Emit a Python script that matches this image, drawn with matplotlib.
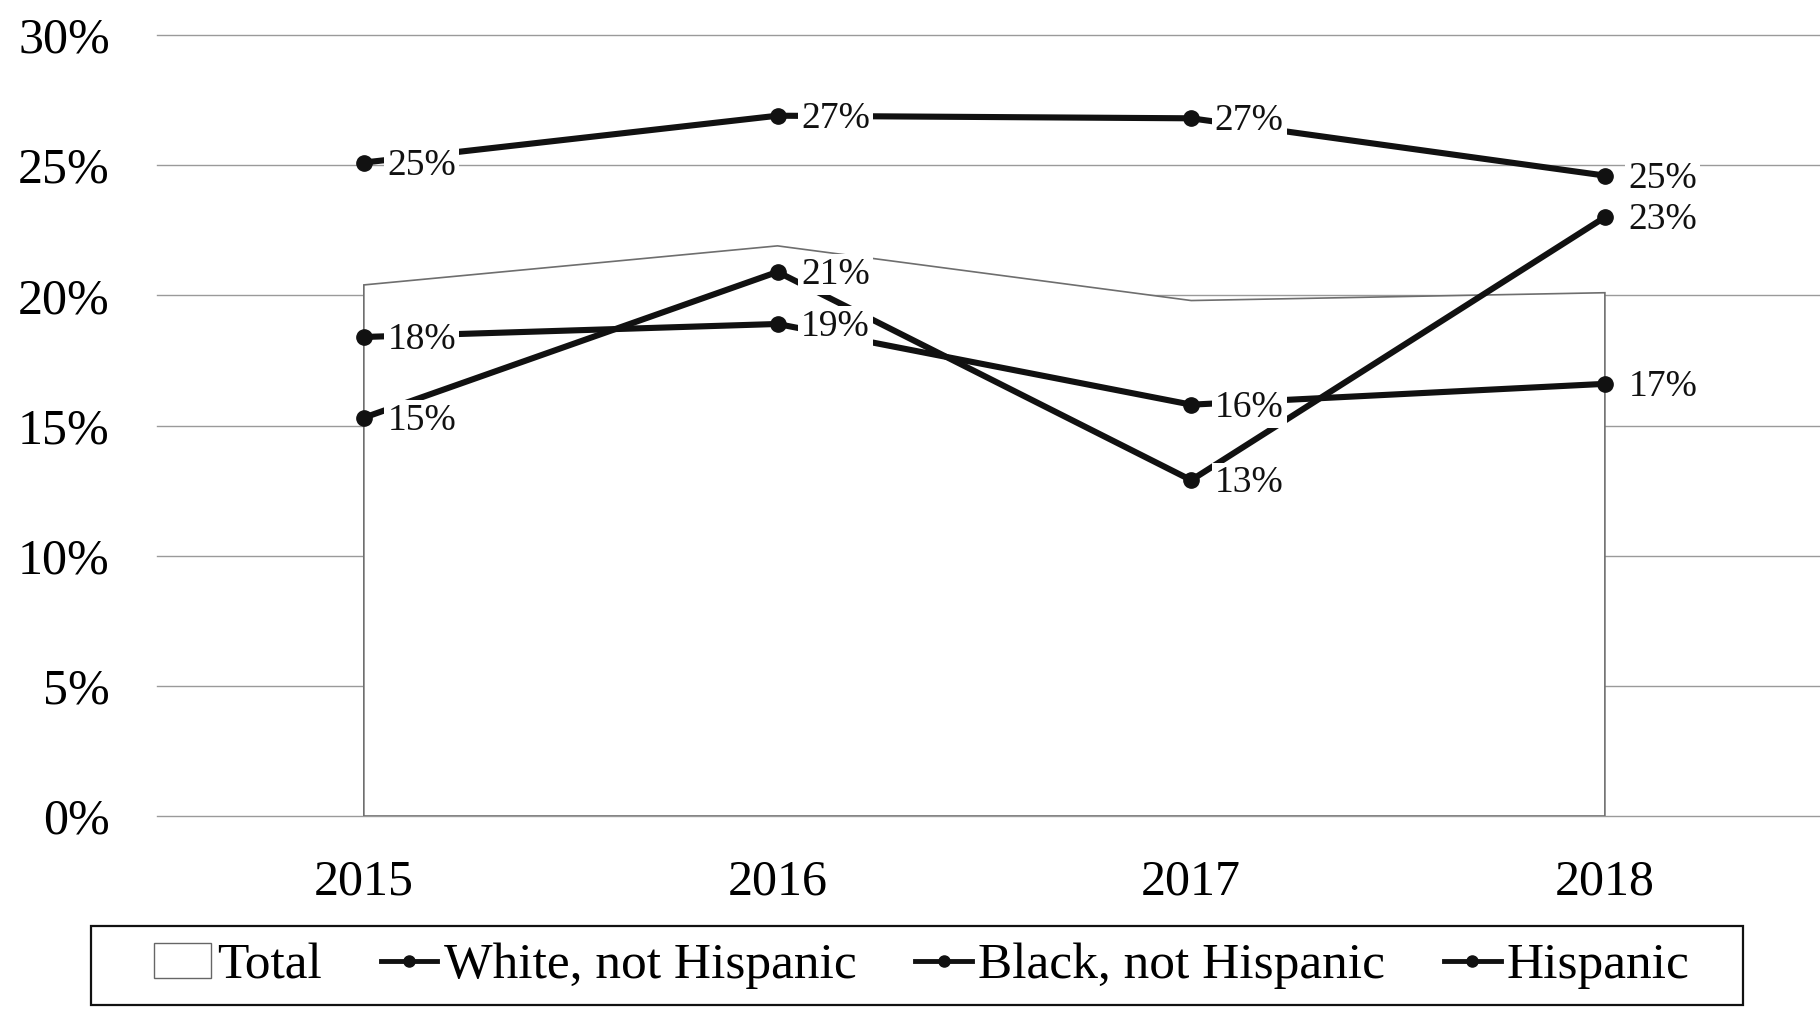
import matplotlib

matplotlib.use("Agg")

import matplotlib.pyplot as plt
from matplotlib.lines import Line2D
from matplotlib.patches import Patch, Rectangle

plt.rcParams["font.family"] = ["Liberation Serif", "DejaVu Serif"]

YEARS = ["2015", "2016", "2017", "2018"]
TOTAL = [20.4, 21.9, 19.8, 20.1]
WHITE = [18.4, 18.9, 15.8, 16.6]
BLACK = [25.1, 26.9, 26.8, 24.6]
HISPANIC = [15.3, 20.9, 12.9, 23.0]
SERIES_NAMES = ["Total", "White, not Hispanic", "Black, not Hispanic", "Hispanic"]
Y_TICKS = [0, 5, 10, 15, 20, 25, 30]

W, H = 1820, 1018


def main() -> None:
    fig = plt.figure(figsize=(W / 100, H / 100), dpi=100)
    fig.patch.set_facecolor("white")
    ax = fig.add_axes([157 / W, 1 - 816 / H, 1 - 157 / W, (816 - 35) / H])

    x = list(range(len(YEARS)))

    # Total is drawn as a white area with a thin grey outline, hiding the grid
    ax.fill(
        [x[0]] + x + [x[-1]],
        [0] + TOTAL + [0],
        facecolor="white",
        edgecolor="#6e6e6e",
        linewidth=1.2,
        zorder=1.5,
    )

    for values in (WHITE, BLACK, HISPANIC):
        ax.plot(x, values, color="#111111", linewidth=4.4, marker="o",
                markersize=11, zorder=3, clip_on=False)
        for xi, v in zip(x, values):
            ax.annotate(
                f"{v:.0f}%",
                xy=(xi, v),
                xytext=(17, -2),
                textcoords="offset points",
                ha="left",
                va="center",
                fontsize=27,
                color="#111111",
                bbox=dict(boxstyle="square,pad=0.08", facecolor="white", edgecolor="none"),
                zorder=5,
            )

    ax.set_xlim(-0.5, 3.52)
    ax.set_ylim(0, 30)
    ax.set_xticks(x)
    ax.set_xticklabels(YEARS)
    ax.set_yticks(Y_TICKS)
    ax.set_yticklabels([f"{t}%" for t in Y_TICKS])
    ax.tick_params(axis="y", length=0, labelsize=36, pad=34)
    ax.tick_params(axis="x", length=0, labelsize=36, pad=31)
    for spine in ax.spines.values():
        spine.set_visible(False)
    ax.yaxis.grid(True, color="#9a9a9a", linewidth=1.0)
    ax.set_axisbelow(True)
    for gl in ax.get_ygridlines():
        gl.set_clip_on(False)

    handles = [Patch(facecolor="white", edgecolor="#666666", linewidth=1.0)]
    for _ in range(3):
        handles.append(Line2D([], [], color="#111111", linewidth=3.5, marker="o", markersize=8))
    fig.legend(
        handles,
        SERIES_NAMES,
        loc="center",
        bbox_to_anchor=(922 / W, 1 - 966 / H),
        ncol=4,
        frameon=False,
        fontsize=37,
        handlelength=1.1,
        handletextpad=0.12,
        columnspacing=1.15,
        borderpad=0.2,
        borderaxespad=0,
    )
    # plain black box round the legend, wider than its content as in the original
    fig.patches.append(
        Rectangle((91 / W, 1 - 1005 / H), (1743 - 91) / W, (1005 - 926) / H,
                  transform=fig.transFigure, facecolor="none",
                  edgecolor="#111111", linewidth=1.6)
    )

    fig.savefig("out.png", dpi=100, facecolor="white")
    plt.close(fig)


if __name__ == "__main__":
    main()
